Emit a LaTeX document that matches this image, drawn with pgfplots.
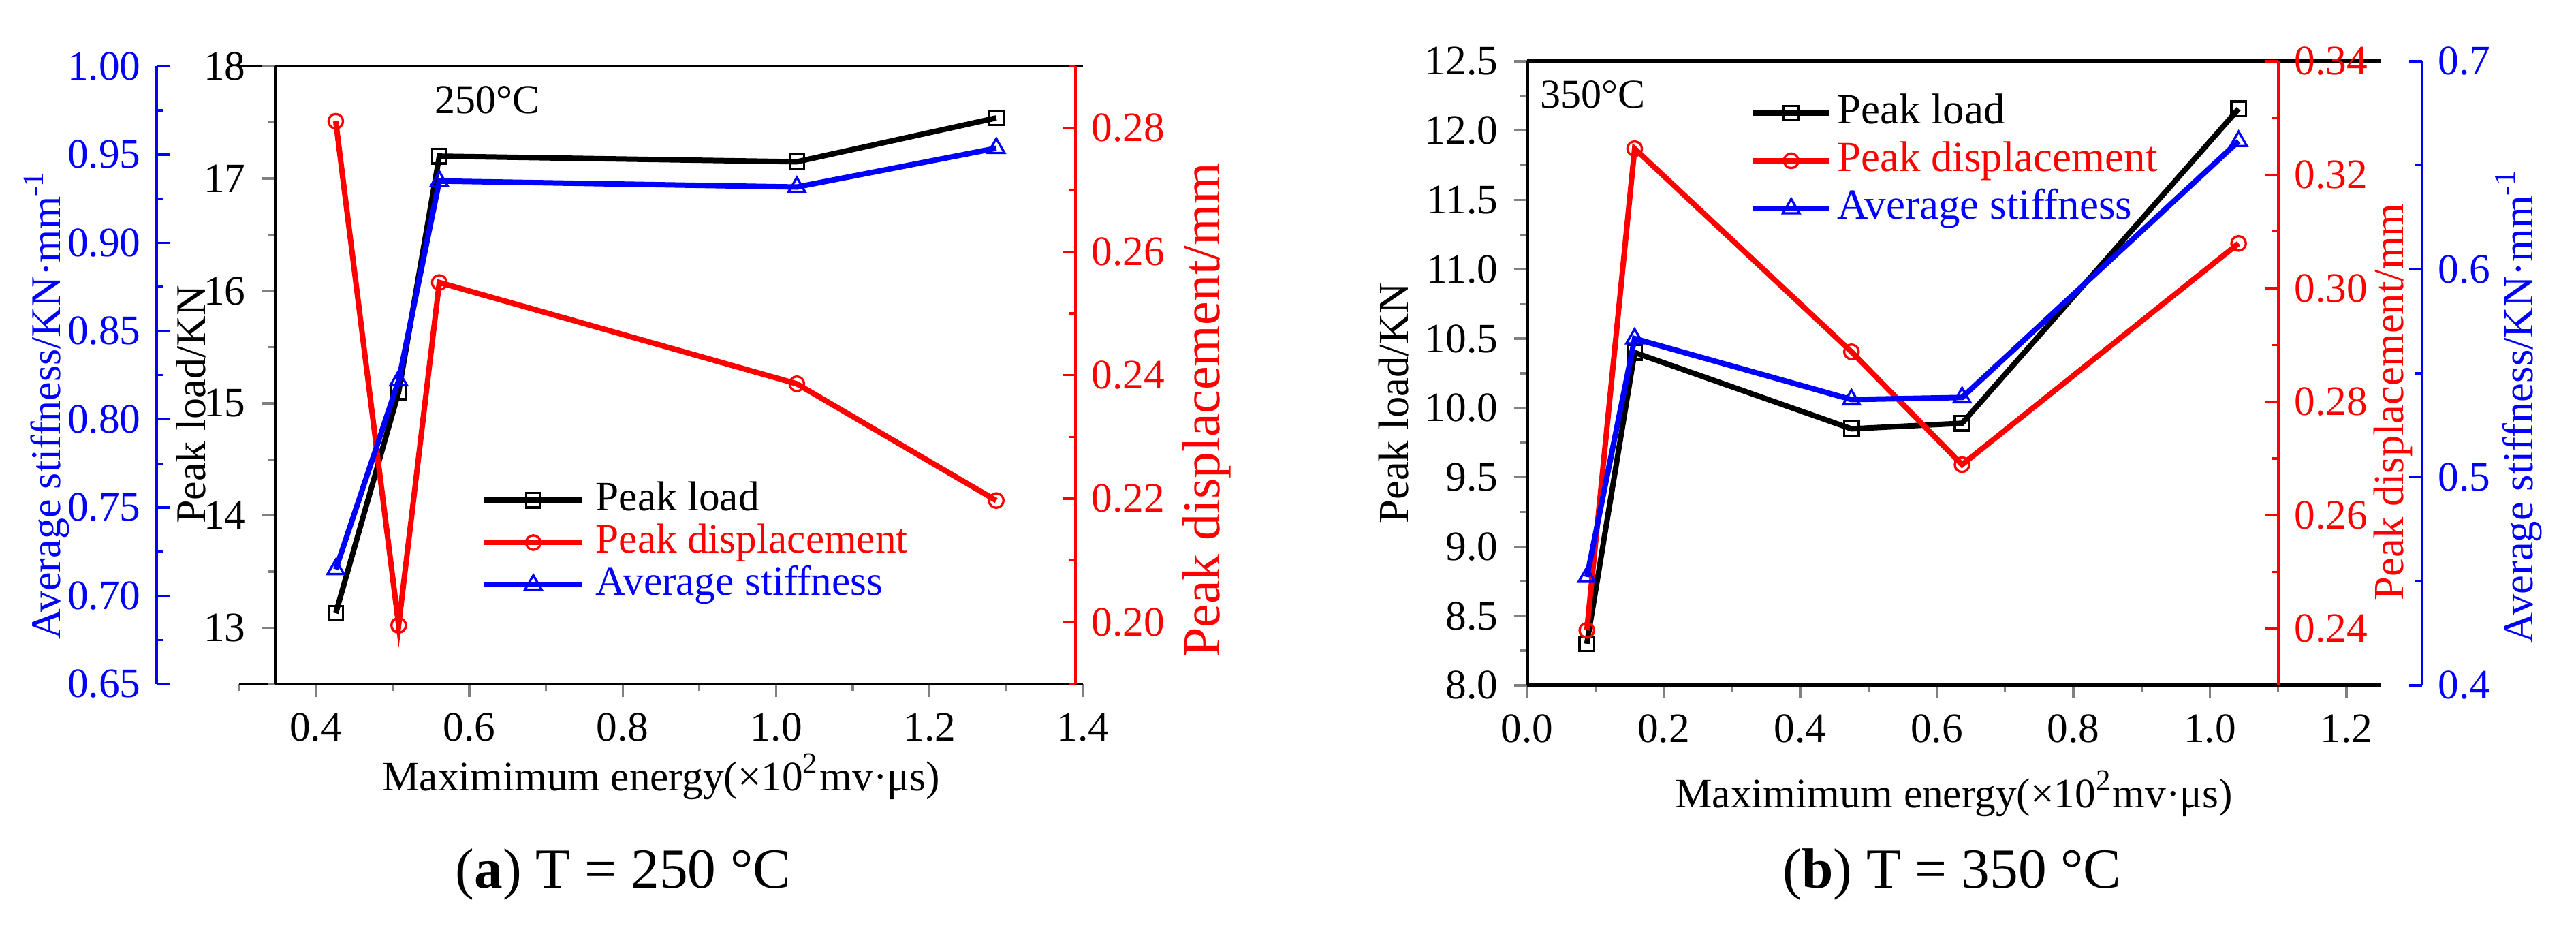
\documentclass[border=0pt]{standalone}
\usepackage{fontspec}
\setmainfont{Liberation Serif}
\usepackage{pgfplots}
\pgfplotsset{compat=1.18}
\definecolor{pred}{RGB}{255,0,0}
\definecolor{pblue}{RGB}{0,0,255}
\newcommand\fs[1]{\fontsize{#1}{#1}\selectfont}

\pgfplotsset{
  base/.style={scale only axis, anchor=south west, enlargelimits=false, clip=false,
    /pgf/number format/assume math mode=true,
    tick label style={font=\fs{9.2}},
    label style={font=\fs{9.2}},
    major tick length=2.9pt, minor tick length=1.5pt,
    tick style={line width=0.5pt},
    axis line style={-, line width=0.6pt},
    every axis plot/.append style={line width=1.2pt},
  },
  mk/.style={mark options={solid, fill=white, line width=0.5pt}},
  sq/.style={mark=square, mark size=1.6pt, mk},
  ci/.style={mark=o, mark size=1.6pt, mk},
  tr/.style={mark=triangle, mark size=2.1pt, mk},
}

\begin{document}
\begin{tikzpicture}
\useasboundingbox (0,0) rectangle (567.3pt,205.2pt);

% ---------------- (a) 250 C ----------------
% x axis
\begin{axis}[base, at={(52.65pt,54.6pt)}, width=185.85pt, height=136pt,
  xmin=0.3, xmax=1.4, ymin=0, ymax=1,
  axis x line*=bottom, axis y line=none, tick align=outside,
  xtick={0.4,0.6,0.8,1.0,1.2,1.4}, minor xtick={0.3,0.5,0.7,0.9,1.1,1.3},
  xticklabel style={/pgf/number format/.cd, fixed, fixed zerofill, precision=1},
  xlabel={Maximimum energy(×10\textsuperscript{2}mv·μs)},
  xlabel style={at={(axis description cs:0.5,0)}, anchor=center, yshift=-20.4pt}]
  \draw[line width=0.6pt] (rel axis cs:0,1) -- (rel axis cs:1,1);
\end{axis}

% peak load
\begin{axis}[base, at={(60.525pt,54.6pt)}, width=177.975pt, height=136pt,
  xmin=0.3466, xmax=1.4, ymin=12.5, ymax=18,
  axis y line*=left, axis x line=none, tick align=outside,
  ytick={13,14,15,16,17,18}, minor ytick={12.5,13.5,14.5,15.5,16.5,17.5}]
  \addplot[black, sq] coordinates {(0.426,13.13) (0.508,15.10) (0.561,17.20) (1.027,17.15) (1.287,17.54)};
\end{axis}

% peak displacement
\begin{axis}[base, at={(52.65pt,54.6pt)}, width=184.2pt, height=136pt,
  xmin=0.3, xmax=1.3903, ymin=0.19, ymax=0.29,
  axis y line*=right, axis x line=none, tick align=inside,
  y axis line style={pred}, tick style={pred},
  ytick={0.20,0.22,0.24,0.26,0.28}, minor ytick={0.19,0.21,0.23,0.25,0.27,0.29},
  yticklabel style={color=pred, /pgf/number format/.cd, fixed, fixed zerofill, precision=2}]
  \addplot[pred, ci] coordinates {(0.426,0.2811) (0.508,0.1995) (0.561,0.2550) (1.027,0.2386) (1.287,0.2197)};
\end{axis}

% average stiffness
\begin{axis}[base, at={(34.5pt,54.6pt)}, width=204pt, height=136pt,
  xmin=0.19254, xmax=1.4, ymin=0.65, ymax=1.0,
  axis y line*=left, axis x line=none, tick align=inside,
  y axis line style={pblue}, tick style={pblue},
  ytick={0.65,0.70,0.75,0.80,0.85,0.90,0.95,1.00},
  minor ytick={0.675,0.725,0.775,0.825,0.875,0.925,0.975},
  yticklabel style={color=pblue, /pgf/number format/.cd, fixed, fixed zerofill, precision=2},
  legend style={at={(0.350,0.330)}, anchor=north west, draw=none, fill=none,
    inner sep=0pt, row sep=0.8pt, column sep=2.4pt, font=\fs{9.2},
    nodes={inner sep=0pt, text height=6.5pt, text depth=2pt}},
  legend cell align=left,
  legend image code/.code={\draw[mark repeat=2,mark phase=2,#1] plot coordinates {(0pt,0pt) (10.75pt,0pt) (21.5pt,0pt)};}]
  \addlegendimage{black, line width=1.2pt, sq}
  \addlegendentry{Peak load}
  \addlegendimage{pred, line width=1.2pt, ci}
  \addlegendentry{\textcolor{pred}{Peak displacement}}
  \addplot[pblue, tr] coordinates {(0.426,0.715) (0.508,0.822) (0.561,0.935) (1.027,0.9316) (1.287,0.9536)};
  \addlegendentry{\textcolor{pblue}{Average stiffness}}
\end{axis}

% axis titles (a)
\node[rotate=90, anchor=base, text=pblue, font=\fs{9.3}] at (13.35pt,116.1pt) {Average stiffness/KN·mm\textsuperscript{-1}};
\node[rotate=90, anchor=base, font=\fs{9.3}] at (45.15pt,116.1pt) {Peak load/KN};
\node[rotate=90, anchor=base, text=pred, font=\fs{11.7}] at (268.5pt,114.9pt) {Peak displacement/mm};

\node[font=\fs{9}] at (107.25pt,183.15pt) {250°C};
\node[font=\fs{12.5}] at (137.25pt,12.75pt) {(\textbf{a}) T = 250 °C};

% ---------------- (b) 350 C ----------------
\begin{axis}[base, at={(336.3pt,54.3pt)}, width=187.97pt, height=137.4pt,
  xmin=0, xmax=1.25, ymin=8, ymax=12.5,
  axis x line*=bottom, axis y line*=left, tick align=outside,
  axis line style={line width=0.75pt},
  xtick={0,0.2,0.4,0.6,0.8,1.0,1.2}, minor xtick={0.1,0.3,0.5,0.7,0.9,1.1},
  ytick={8,8.5,...,12.5}, minor ytick={8.25,8.75,...,12.25},
  xticklabel style={/pgf/number format/.cd, fixed, fixed zerofill, precision=1},
  yticklabel style={/pgf/number format/.cd, fixed, fixed zerofill, precision=1},
  xlabel={Maximimum energy(×10\textsuperscript{2}mv·μs)},
  xlabel style={at={(axis description cs:0.5,0)}, anchor=center, yshift=-23.85pt}]
  \draw[line width=0.75pt] (rel axis cs:0,1) -- (rel axis cs:1,1);
  \addplot[black, sq] coordinates {(0.0875,8.30) (0.1575,10.40) (0.475,9.85) (0.637,9.89) (1.042,12.157)};
\end{axis}

\begin{axis}[base, at={(336.3pt,54.3pt)}, width=165.41pt, height=137.4pt,
  xmin=0, xmax=1.1, ymin=0.23, ymax=0.34,
  axis y line*=right, axis x line=none, tick align=inside,
  y axis line style={pred}, tick style={pred},
  ytick={0.24,0.26,0.28,0.30,0.32,0.34}, minor ytick={0.25,0.27,0.29,0.31,0.33},
  yticklabel style={color=pred, /pgf/number format/.cd, fixed, fixed zerofill, precision=2}]
  \addplot[pred, ci] coordinates {(0.0875,0.2397) (0.1575,0.3246) (0.475,0.2888) (0.637,0.2689) (1.042,0.3079)};
\end{axis}

\begin{axis}[base, at={(336.3pt,54.3pt)}, width=197.1pt, height=137.4pt,
  xmin=0, xmax=1.3107, ymin=0.4, ymax=0.7,
  axis y line*=right, axis x line=none, tick align=inside,
  y axis line style={pblue}, tick style={pblue},
  ytick={0.4,0.5,0.6,0.7}, minor ytick={0.45,0.55,0.65},
  yticklabel style={color=pblue, /pgf/number format/.cd, fixed, fixed zerofill, precision=1},
  legend style={at={(0.2489,0.952)}, anchor=north west, draw=none, fill=none,
    inner sep=0pt, row sep=1.3pt, column sep=1.2pt, font=\fs{9.45},
    nodes={inner sep=0pt, text height=7pt, text depth=2.2pt}},
  legend cell align=left,
  legend image code/.code={\draw[mark repeat=2,mark phase=2,#1] plot coordinates {(0pt,0pt) (8.3pt,0pt) (16.6pt,0pt)};}]
  \addlegendimage{black, line width=1.2pt, sq}
  \addlegendentry{Peak load}
  \addlegendimage{pred, line width=1.2pt, ci}
  \addlegendentry{\textcolor{pred}{Peak displacement}}
  \addplot[pblue, tr] coordinates {(0.0875,0.4521) (0.1575,0.5667) (0.475,0.5374) (0.637,0.5384) (1.042,0.6616)};
  \addlegendentry{\textcolor{pblue}{Average stiffness}}
\end{axis}

% axis titles (b)
\node[rotate=90, anchor=base, font=\fs{9.4}] at (310.05pt,116.4pt) {Peak load/KN};
\node[rotate=90, anchor=base, text=pred, font=\fs{9.4}] at (529.2pt,116.7pt) {Peak displacement/mm};
\node[rotate=90, anchor=base, text=pblue, font=\fs{9.4}] at (557.7pt,115.8pt) {Average stiffness/KN·mm\textsuperscript{-1}};

\node[font=\fs{9}] at (350.8pt,184.35pt) {350°C};
\node[font=\fs{12.5}] at (429.9pt,12.75pt) {(\textbf{b}) T = 350 °C};
\end{tikzpicture}
\end{document}
